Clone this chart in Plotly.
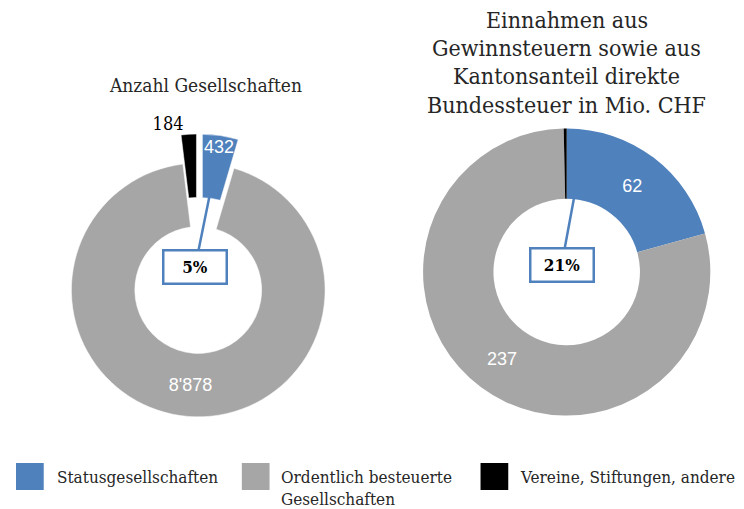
import plotly.graph_objects as go

categories = ["Statusgesellschaften", "Ordentlich besteuerte Gesellschaften", "Vereine, Stiftungen, andere"]
legend_labels = ["Statusgesellschaften", "Ordentlich besteuerte<br>Gesellschaften", "Vereine, Stiftungen, andere"]
anzahl_values = [432, 8878, 184]
einnahmen_values = [62, 237, 1]
title_left = "Anzahl Gesellschaften"
title_right_lines = ["Einnahmen aus", "Gewinnsteuern sowie aus", "Kantonsanteil direkte", "Bundessteuer in Mio. CHF"]

colors = ["#4F81BD", "#A6A6A6", "#000000"]
FONT = "DejaVu Serif Condensed, Liberation Serif, serif"
NUMFONT = "Liberation Sans Narrow, Liberation Sans, Arial, sans-serif"
OFF = 8  # page body margin
W, H = 744 - OFF, 509 - OFF

def px(x):
    return (x - OFF) / W

def py(y):
    return 1 - (y - OFF) / H

fig = go.Figure()

# left donut
fig.add_trace(go.Pie(
    labels=categories, values=anzahl_values, sort=False, direction="clockwise", rotation=0,
    hole=0.5, pull=[0.23, 0, 0.23],
    marker=dict(colors=colors, line=dict(color="white", width=0.5)),
    texttemplate=["", "%{value:,}", "%{value:,}"],
    textposition=["inside", "inside", "outside"],
    insidetextorientation="horizontal",
    insidetextfont=dict(color="white", size=18, family=NUMFONT),
    outsidetextfont=dict(color="black", size=18, family=FONT),
    domain=dict(x=[px(35.5), px(350.5)], y=[py(447.5), py(132.5)]),
    showlegend=False, hoverinfo="label+value+percent",
))

# right donut
fig.add_trace(go.Pie(
    labels=categories, values=einnahmen_values, sort=False, direction="clockwise", rotation=0,
    hole=0.51,
    marker=dict(colors=colors, line=dict(color="white", width=0)),
    texttemplate=["%{value:,}", "%{value:,}", ""],
    textposition="inside",
    insidetextorientation="horizontal",
    insidetextfont=dict(color="white", size=18, family=NUMFONT),
    domain=dict(x=[px(420), px(710)], y=[py(417), py(127)]),
    showlegend=False, hoverinfo="label+value+percent",
))

annotations = []
# value label in narrow pulled slice
annotations.append(dict(x=px(214), y=py(147), xref="paper", yref="paper", xanchor="center", yanchor="middle",
                        text=f"{anzahl_values[0]}",
                        showarrow=False, font=dict(color="white", size=18, family=NUMFONT)))

# titles
annotations.append(dict(x=px(200), y=py(85), xref="paper", yref="paper", xanchor="center", yanchor="middle",
                        text=title_left,
                        showarrow=False, font=dict(color="#262626", size=19, family=FONT)))
for i, line in enumerate(title_right_lines):
    annotations.append(dict(x=px(565), y=py(20 + i * 28.2), xref="paper", yref="paper",
                            xanchor="center", yanchor="middle", text=line,
                            showarrow=False, font=dict(color="#262626", size=23, family=FONT)))

# percentage callouts
pct_left = round(100 * anzahl_values[0] / sum(anzahl_values))
pct_right = round(100 * einnahmen_values[0] / sum(einnahmen_values))
annotations.append(dict(x=px(205), y=py(193), xref="paper", yref="paper", text=f"<b>{pct_left}%</b>",
                        showarrow=True, arrowhead=0, arrowwidth=2.5, arrowcolor="#4F81BD",
                        ax=190 - 205, ay=267 - 193, axref="pixel", ayref="pixel",
                        bordercolor="#4F81BD", borderwidth=2.5, bgcolor="white",
                        width=59, height=29, font=dict(color="black", size=17, family=FONT)))
annotations.append(dict(x=px(575), y=py(184), xref="paper", yref="paper", text=f"<b>{pct_right}%</b>",
                        showarrow=True, arrowhead=0, arrowwidth=2.5, arrowcolor="#4F81BD",
                        ax=560 - 575, ay=265 - 184, axref="pixel", ayref="pixel",
                        bordercolor="#4F81BD", borderwidth=2.5, bgcolor="white",
                        width=59, height=29, font=dict(color="black", size=17, family=FONT)))

# custom legend
shapes = []
legend_x = [9, 237, 478]
text_x = [48, 275, 516]
for i in range(3):
    shapes.append(dict(type="rect", xref="paper", yref="paper",
                       x0=px(legend_x[i]), x1=px(legend_x[i] + 28), y0=py(490), y1=py(463),
                       fillcolor=colors[i], line=dict(width=0)))
    annotations.append(dict(x=px(text_x[i]), y=py(465), xref="paper", yref="paper",
                            xanchor="left", yanchor="top", align="left",
                            text=legend_labels[i], showarrow=False,
                            font=dict(color="#262626", size=17, family=FONT)))

fig.update_layout(
    width=W, height=H,
    margin=dict(l=0, r=0, t=0, b=0),
    paper_bgcolor="white", plot_bgcolor="white",
    separators=".'",
    annotations=annotations, shapes=shapes,
    showlegend=False,
)

fig.write_html("out.html")
